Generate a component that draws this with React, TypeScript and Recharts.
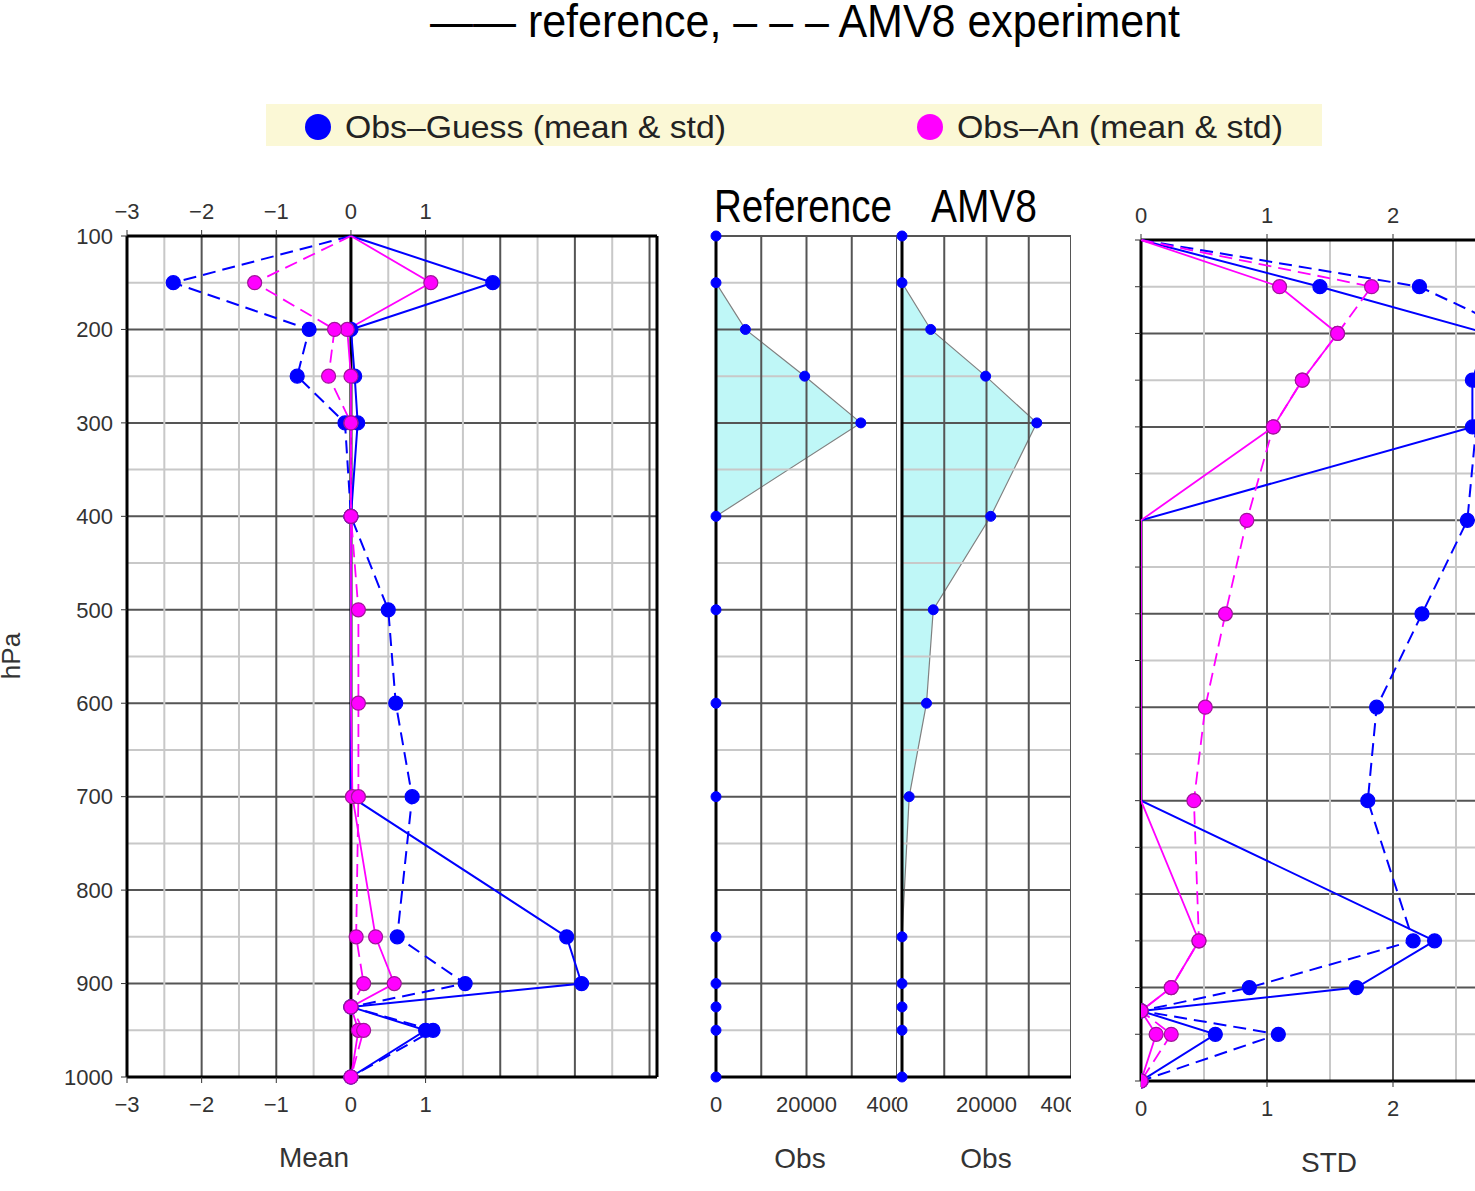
import React from 'react'
import { ComposedChart, LineChart, Line, Area, XAxis, YAxis, ReferenceLine } from 'recharts'

// pressure levels (hPa)
const levels = [100, 150, 200, 250, 300, 400, 500, 600, 700, 850, 900, 925, 950, 1000]

// Mean panel
const meanGuessRef = [0, 1.9, 0.0, 0.05, 0.09, 0, 0, 0, 0, 2.89, 3.09, 0, 1.0, 0]
const meanGuessAmv = [0, -2.38, -0.56, -0.72, -0.08, 0, 0.5, 0.6, 0.82, 0.62, 1.53, 0, 1.1, 0]
const meanAnRef = [0, 1.07, -0.05, 0, 0, 0, 0, 0, 0.02, 0.33, 0.58, 0, 0.1, 0]
const meanAnAmv = [0, -1.29, -0.22, -0.3, 0, 0, 0.1, 0.1, 0.1, 0.07, 0.17, 0, 0.17, 0]

// Obs count panels
const obsRef = [0, 0, 6500, 19600, 32000, 0, 0, 0, 0, 0, 0, 0, 0, 0]
const obsAmv = [0, 0, 6800, 19800, 31900, 21000, 7400, 5800, 1700, 0, 0, 0, 0, 0]

// STD panel
const stdGuessRef = [0, 1.42, 2.75, 2.63, 2.63, 0, 0, 0, 0, 2.33, 1.71, 0, 0.59, 0]
const stdGuessAmv = [0, 2.21, 3.0, 2.66, 2.66, 2.59, 2.23, 1.87, 1.8, 2.16, 0.86, 0, 1.09, 0]
const stdAnRef = [0, 1.1, 1.56, 1.28, 1.05, 0, 0, 0, 0, 0.46, 0.24, 0, 0.12, 0]
const stdAnAmv = [0, 1.83, 1.56, 1.28, 1.05, 0.84, 0.67, 0.51, 0.42, 0.46, 0.24, 0, 0.24, 0]

// axis ticks
const meanTicks = [-3, -2, -1, 0, 1]
const obsTicks = [0, 20000, 40000]
const stdTicks = [0, 1, 2, 3]
const pressureTicks = [100, 200, 300, 400, 500, 600, 700, 800, 900, 1000]

const meanData = levels.map((p, i) => ({
  p,
  gRef: meanGuessRef[i],
  gAmv: meanGuessAmv[i],
  aRef: meanAnRef[i],
  aAmv: meanAnAmv[i],
}))
const stdData = levels.map((p, i) => ({
  p,
  gRef: stdGuessRef[i],
  gAmv: stdGuessAmv[i],
  aRef: stdAnRef[i],
  aAmv: stdAnAmv[i],
}))
const obsRefData = levels.map((p, i) => ({ p, obs: obsRef[i] }))
const obsAmvData = levels.map((p, i) => ({ p, obs: obsAmv[i] }))

const FONT = '"Liberation Sans", Arial, Helvetica, sans-serif'
const NARROW = '"Liberation Sans Narrow", "Liberation Sans", Arial, sans-serif'
const BLUE = '#0000ff'
const MAGENTA = '#ff00ff'
const DARK = '#555'
const LIGHT = '#c8c8c8'
const DASH = '13 7'

const tickStyle = { fontSize: 22, fill: '#333', fontFamily: FONT }
const fmt = (v: number) => (v < 0 ? '\u2212' + Math.abs(v) : String(v))

const range = (a: number, b: number, s: number) => {
  const out: number[] = []
  for (let v = a; v <= b + 1e-9; v += s) out.push(Math.round(v * 100) / 100)
  return out
}

function grid(xs: number[], isMajorX: (v: number) => boolean, ys: number[]) {
  return [
    ...ys.map((p) => (
      <ReferenceLine key={'h' + p} y={p} stroke={p % 100 === 0 ? DARK : LIGHT} strokeWidth={2} />
    )),
    ...xs.map((v) => (
      <ReferenceLine key={'v' + v} x={v} stroke={isMajorX(v) ? DARK : LIGHT} strokeWidth={2} />
    )),
  ]
}

const makeDot =
  (key: string, fill: string, stroke: string, r: number, hideZero: [number, number]) =>
  (props: any) => {
    const { cx, cy, payload, index } = props
    const v = payload[key]
    const k = key + '-' + index
    if (payload.p === 100 || (v === 0 && payload.p >= hideZero[0] && payload.p <= hideZero[1])) {
      return <g key={k} />
    }
    return <circle key={k} cx={cx} cy={cy} r={r} fill={fill} stroke={stroke} strokeWidth={1.2} />
  }

function Frame({ left, width, children }: { left: number; width: number; children: React.ReactNode }) {
  return (
    <div style={{ position: 'absolute', left, top: 0, width, height: 1191, overflow: 'hidden' }}>
      {children}
    </div>
  )
}

function MeanPanel() {
  const hide: [number, number] = [500, 800]
  return (
    <Frame left={0} width={680}>
      <LineChart
        width={680}
        height={1191}
        data={meanData}
        layout="vertical"
        margin={{ top: 206, left: 67, right: 23, bottom: 84 }}
      >
        {grid(range(-3, 4, 0.5), (v) => Number.isInteger(v), range(100, 1000, 50))}
        <ReferenceLine x={0} stroke="#000" strokeWidth={3} />
        <ReferenceLine x={-3} stroke="#000" strokeWidth={3} />
        <ReferenceLine x={4.1} stroke="#000" strokeWidth={3} />
        <ReferenceLine y={100} stroke="#000" strokeWidth={3} />
        <ReferenceLine y={1000} stroke="#000" strokeWidth={3} />
        <XAxis
          type="number"
          domain={[-3, 4.1]}
          ticks={meanTicks}
          interval={0}
          allowDataOverflow
          axisLine={false}
          tickLine={{ stroke: '#333' }}
          tickSize={6}
          tickMargin={13}
          tick={tickStyle}
          tickFormatter={fmt}
          height={30}
        />
        <XAxis
          xAxisId="top"
          orientation="top"
          type="number"
          domain={[-3, 4.1]}
          ticks={meanTicks}
          interval={0}
          allowDataOverflow
          axisLine={false}
          tickLine={{ stroke: '#333' }}
          tickSize={6}
          tickMargin={11}
          tick={tickStyle}
          tickFormatter={fmt}
          height={30}
        />
        <YAxis
          type="number"
          dataKey="p"
          domain={[100, 1000]}
          ticks={pressureTicks}
          interval={0}
          width={60}
          axisLine={false}
          tickLine={{ stroke: '#333' }}
          tickSize={6}
          tickMargin={8}
          tick={tickStyle}
        />
        <Line dataKey="gRef" stroke={BLUE} strokeWidth={2} dot={makeDot('gRef', BLUE, BLUE, 7, hide)} activeDot={false} isAnimationActive={false} />
        <Line dataKey="gAmv" stroke={BLUE} strokeWidth={2} strokeDasharray={DASH} dot={makeDot('gAmv', BLUE, BLUE, 7, hide)} activeDot={false} isAnimationActive={false} />
        <Line dataKey="aRef" stroke={MAGENTA} strokeWidth={1.8} dot={makeDot('aRef', MAGENTA, '#a0149a', 7, hide)} activeDot={false} isAnimationActive={false} />
        <Line dataKey="aAmv" stroke={MAGENTA} strokeWidth={1.8} strokeDasharray={DASH} dot={makeDot('aAmv', MAGENTA, '#a0149a', 7, hide)} activeDot={false} isAnimationActive={false} />
      </LineChart>
    </Frame>
  )
}

function ObsPanel({ data, left, width, ml, mr }: { data: any[]; left: number; width: number; ml: number; mr: number }) {
  return (
    <Frame left={left} width={width}>
      <ComposedChart
        width={width + mr}
        height={1191}
        data={data}
        layout="vertical"
        margin={{ top: 236, left: ml, right: mr, bottom: 84 }}
      >
        <Area
          dataKey="obs"
          type="linear"
          fill="#7ff0f0"
          fillOpacity={0.5}
          stroke="#808080"
          strokeWidth={1.2}
          dot={{ r: 5, fill: BLUE, fillOpacity: 1, stroke: BLUE, strokeOpacity: 1, strokeWidth: 1 }}
          activeDot={false}
          isAnimationActive={false}
        />
        {grid(range(0, 40000, 10000), () => true, range(100, 1000, 50))}
        <ReferenceLine x={0} stroke="#000" strokeWidth={3} />
        <ReferenceLine y={1000} stroke="#000" strokeWidth={3} />
        <XAxis
          type="number"
          domain={[0, 40000]}
          ticks={obsTicks}
          interval={0}
          axisLine={false}
          tickLine={false}
          tickSize={6}
          tickMargin={13}
          tick={tickStyle}
          height={30}
        />
        <YAxis type="number" dataKey="p" domain={[100, 1000]} hide />
      </ComposedChart>
    </Frame>
  )
}

function StdPanel() {
  const hide: [number, number] = [400, 800]
  return (
    <Frame left={1100} width={375}>
      <LineChart
        width={500}
        height={1191}
        data={stdData}
        layout="vertical"
        margin={{ top: 210, left: 31, right: 81, bottom: 80 }}
      >
        {grid(range(0, 3, 0.5), (v) => Number.isInteger(v), range(100, 1000, 50))}
        <ReferenceLine x={0} stroke="#000" strokeWidth={3} />
        <ReferenceLine y={100} stroke="#000" strokeWidth={3} />
        <ReferenceLine y={1000} stroke="#000" strokeWidth={3} />
        <XAxis
          type="number"
          domain={[0, 3]}
          ticks={stdTicks}
          interval={0}
          allowDataOverflow
          axisLine={false}
          tickLine={{ stroke: '#333' }}
          tickSize={6}
          tickMargin={13}
          tick={tickStyle}
          height={30}
        />
        <XAxis
          xAxisId="top"
          orientation="top"
          type="number"
          domain={[0, 3]}
          ticks={stdTicks}
          interval={0}
          allowDataOverflow
          axisLine={false}
          tickLine={{ stroke: '#333' }}
          tickSize={6}
          tickMargin={11}
          tick={tickStyle}
          height={30}
        />
        <YAxis
          type="number"
          dataKey="p"
          domain={[100, 1000]}
          ticks={range(100, 1000, 50)}
          interval={0}
          width={10}
          axisLine={false}
          tickLine={{ stroke: '#333' }}
          tickSize={6}
          tickFormatter={() => ''}
        />
        <Line dataKey="gRef" stroke={BLUE} strokeWidth={2} dot={makeDot('gRef', BLUE, BLUE, 7, hide)} activeDot={false} isAnimationActive={false} />
        <Line dataKey="gAmv" stroke={BLUE} strokeWidth={2} strokeDasharray={DASH} dot={makeDot('gAmv', BLUE, BLUE, 7, hide)} activeDot={false} isAnimationActive={false} />
        <Line dataKey="aRef" stroke={MAGENTA} strokeWidth={1.8} dot={makeDot('aRef', MAGENTA, '#a0149a', 7, hide)} activeDot={false} isAnimationActive={false} />
        <Line dataKey="aAmv" stroke={MAGENTA} strokeWidth={1.8} strokeDasharray={DASH} dot={makeDot('aAmv', MAGENTA, '#a0149a', 7, hide)} activeDot={false} isAnimationActive={false} />
      </LineChart>
    </Frame>
  )
}

function Labels() {
  return (
    <svg width={1475} height={1191} style={{ position: 'absolute', left: 0, top: 0 }}>
      <text x={430} y={37} fontFamily={NARROW} fontSize={46} fill="#000" textLength={750} lengthAdjust="spacingAndGlyphs">
        {'\u2014\u2014 reference, \u2013 \u2013 \u2013 AMV8 experiment'}
      </text>
      <rect x={266} y={104} width={1056} height={42} fill="#fbf8d6" />
      <circle cx={318} cy={127} r={13} fill={BLUE} />
      <text x={345} y={138} fontFamily={FONT} fontSize={32} fill="#222" textLength={381} lengthAdjust="spacingAndGlyphs">
        {'Obs\u2013Guess (mean & std)'}
      </text>
      <circle cx={930} cy={127} r={13} fill={MAGENTA} />
      <text x={957} y={138} fontFamily={FONT} fontSize={32} fill="#222" textLength={326} lengthAdjust="spacingAndGlyphs">
        {'Obs\u2013An (mean & std)'}
      </text>
      <text x={714} y={222} fontFamily={NARROW} fontSize={46} fill="#000" textLength={178} lengthAdjust="spacingAndGlyphs">
        Reference
      </text>
      <text x={931} y={222} fontFamily={NARROW} fontSize={46} fill="#000" textLength={106} lengthAdjust="spacingAndGlyphs">
        AMV8
      </text>
      <text x={20} y={656} transform="rotate(-90 20 656)" textAnchor="middle" fontFamily={FONT} fontSize={26} fill="#333">
        hPa
      </text>
      <text x={314} y={1167} textAnchor="middle" fontFamily={FONT} fontSize={28} fill="#333">
        Mean
      </text>
      <text x={800} y={1168} textAnchor="middle" fontFamily={FONT} fontSize={28} fill="#333">
        Obs
      </text>
      <text x={986} y={1168} textAnchor="middle" fontFamily={FONT} fontSize={28} fill="#333">
        Obs
      </text>
      <text x={1329} y={1172} textAnchor="middle" fontFamily={FONT} fontSize={28} fill="#333">
        STD
      </text>
    </svg>
  )
}

export default function App() {
  return (
    <div style={{ position: 'absolute', left: 0, top: 0, width: 1475, height: 1191, overflow: 'hidden', background: '#fff' }}>
      <Labels />
      <MeanPanel />
      <ObsPanel data={obsRefData} left={690} width={207} ml={26} mr={13} />
      <ObsPanel data={obsAmvData} left={880} width={191} ml={22} mr={2} />
      <StdPanel />
    </div>
  )
}
